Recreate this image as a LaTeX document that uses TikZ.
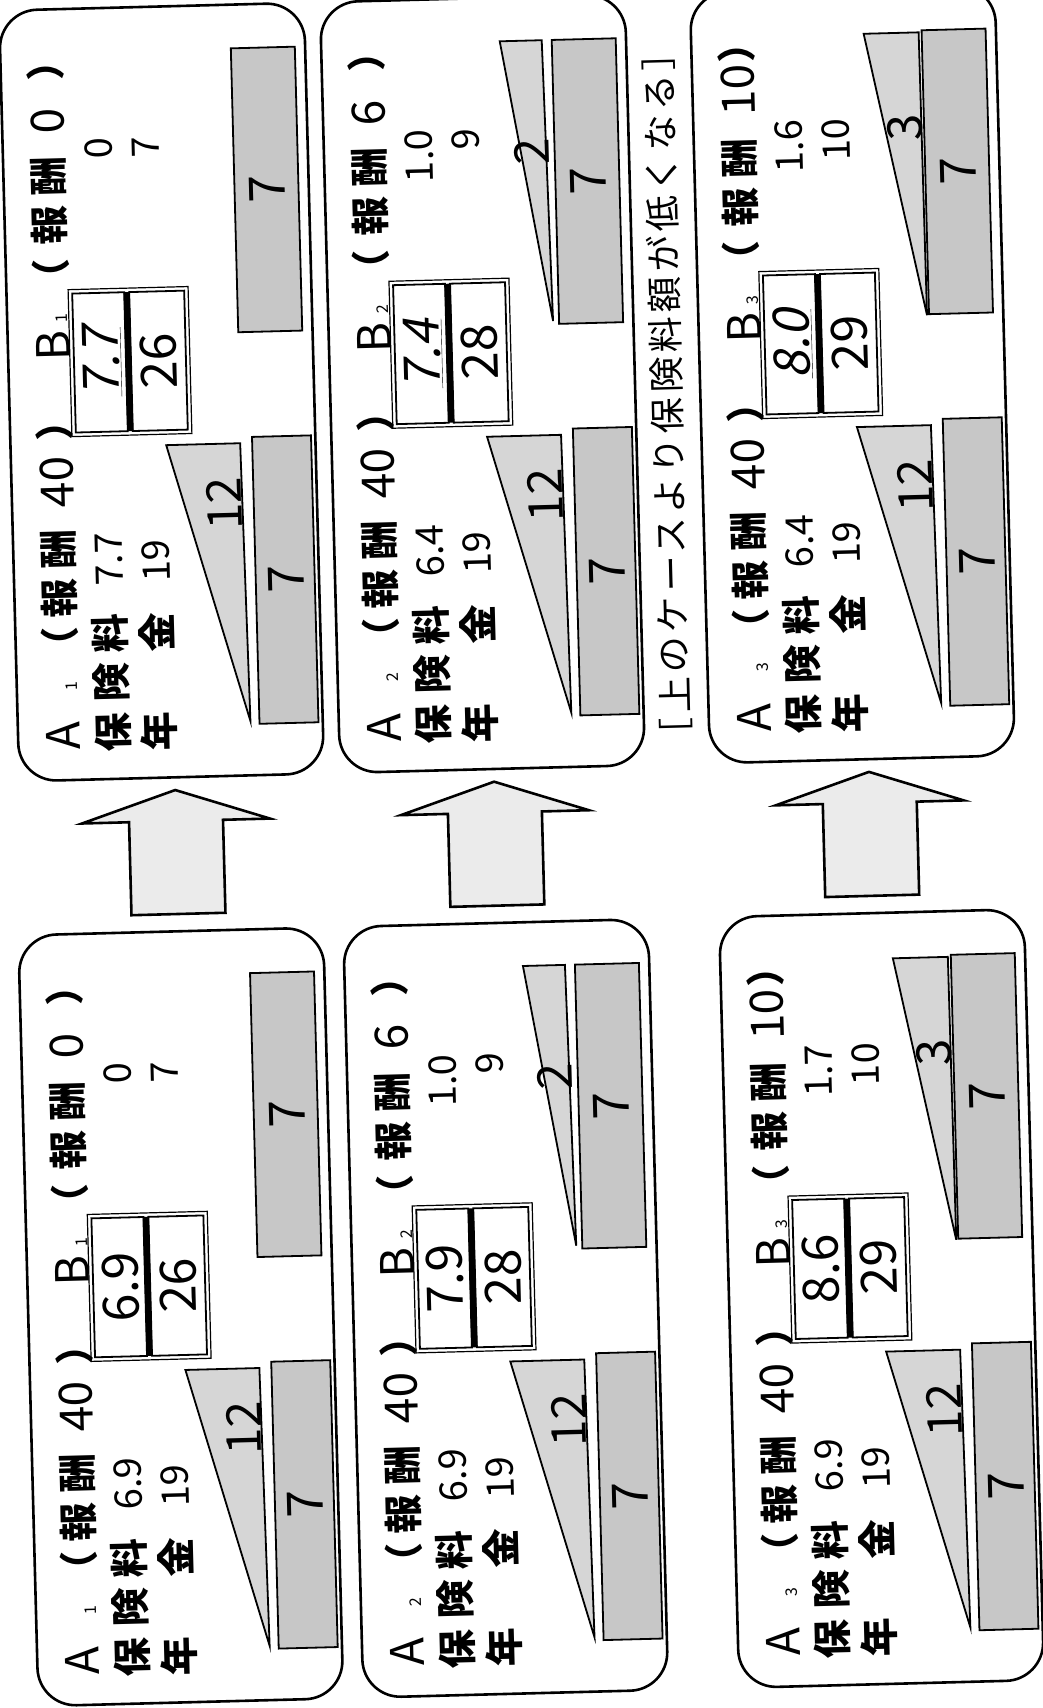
\documentclass[tikz,border=0pt]{standalone}
\usepackage{fontspec}
\setmainfont{Noto Sans CJK JP}
\newfontfamily\jpsl[FakeSlant=0.2]{Noto Sans CJK JP}
\newfontfamily\jpls[LetterSpace=12]{Noto Sans CJK JP}
\tikzset{
  tx/.style={rotate=90, inner sep=0pt, anchor=center},
  f16/.style={font=\fontsize{16}{16}\selectfont, text height=14pt, text depth=2pt},
  f38/.style={font=\fontsize{38}{38}\selectfont, text height=33.4pt, text depth=4.6pt},
  kj/.style={font=\bfseries\fontsize{39}{39}\selectfont, text height=34.3pt, text depth=4.7pt},
  f44/.style={font=\fontsize{46}{46}\selectfont, text height=40.5pt, text depth=5.5pt},
  f46/.style={font=\fontsize{46}{46}\selectfont, text height=40.5pt, text depth=5.5pt},
  f48/.style={font=\fontsize{48}{48}\selectfont, text height=42.2pt, text depth=5.8pt},
  f50/.style={font=\fontsize{50}{50}\selectfont, text height=44pt, text depth=6pt},
  panelbox/.style={draw, line width=2.6pt, rounded corners=38pt, minimum width=305pt, minimum height=771pt, inner sep=0pt, anchor=north west},
  bar/.style={draw, line width=1.8pt, fill=black!22},
  wedge/.style={draw, line width=1.8pt, fill=black!16},
  blockarrow/.style={draw, line width=2.6pt, fill=black!8, line join=miter},
}
% #1 name #2 left #3 top #4 index #5 B reward #6 A premium #7 B premium #8 B pension #9 Bbox top value; \bboxbot bottom value
\newcommand\panel[9]{%
\begin{scope}[shift={(#2,#3)}]
\node[panelbox] (#1) at (0,0) {};
% line 1
\node[tx,f44] (#1-A) at (46,728) {A};
\node[tx,f16] (#1-ia) at (56,678) {#4};
\node[tx,kj] (#1-l1) at (46,638) {（};
\node[tx,kj] (#1-h1) at (46,590) {報};
\node[tx,kj] (#1-s1) at (46,541) {酬};
\node[tx,f46] (#1-n1) at (46,474) {40};
\node[tx,kj] (#1-r1) at (46,413) {）};
\node[tx,f44] (#1-B) at (46,338) {B};
\node[tx,f16] (#1-ib) at (56,310) {#4};
\node[tx,kj] (#1-l2) at (46,270) {（};
\node[tx,kj] (#1-h2) at (46,217) {報};
\node[tx,kj] (#1-s2) at (46,168) {酬};
\node[tx,f46,anchor=west] (#1-n2) at (46,126) {#5};
\node[tx,kj] (#1-r2) at (46,53) {）};
% line 2
\node[tx,kj] (#1-ho) at (96,726) {保};
\node[tx,kj] (#1-ke) at (96,676) {険};
\node[tx,kj] (#1-ry) at (96,627) {料};
\node[tx,f38,anchor=west] (#1-pa) at (96,579) {#6};
\node[tx,f38,anchor=east] (#1-pb) at (96,131) {#7};
% line 3
\node[tx,kj] (#1-ne) at (143,726) {年};
\node[tx,kj] (#1-ki) at (143,627) {金};
\node[tx,f38,anchor=west] (#1-qa) at (143,577) {19};
\node[tx,f38,anchor=east] (#1-qb) at (143,131) {#8};
% B box
\draw[line width=1.2pt] (63,282) rectangle (183,429);
\draw[line width=1.8pt] (67,286) rectangle (119,425);
\draw[line width=1.8pt] (124,286) rectangle (179,425);
\draw[line width=6pt] (121.5,286) -- (121.5,425);
\node[tx,f50] (#1-bt) at (93,355.5) {#9};
\node[tx,f50] (#1-bu) at (151,355.5) {\bboxbot};
% A shapes
\draw[wedge] (157,440) -- (231,440) -- (234,718) -- cycle;
\node[tx,f48] (#1-t1) at (213,500) {12};
\draw[bar] (243,434) rectangle (302,721);
\node[tx,f50] (#1-v1) at (272.5,577.5) {7};
% B shapes
\ifcase#4\relax\or\or
\draw[wedge] (180,45) -- (222,45) -- (226,326) -- cycle;
\node[tx,f48] (#1-t2) at (208,156) {2};
\or
\draw[wedge] (174,47) -- (229,47) -- (230,330) -- cycle;
\node[tx,f48] (#1-t2) at (212,142) {3};
\fi
\draw[bar] (232,45) rectangle (296,329);
\node[tx,f50] (#1-v2) at (264,187) {7};
\end{scope}}
\newcommand\uit[1]{\underline{\jpsl #1}}
\begin{document}
\begin{tikzpicture}[x=1pt,y=-1pt]
\useasboundingbox (0,0) rectangle (1042,1708);
\fill[white] (0,0) rectangle (1042,1708);
\begin{scope}[rotate around={1.5:(521,854)}, transform shape]
\def\bboxbot{26}\panel{Ra}{20}{-4}{1}{0}{7.7}{0}{7}{\uit{7.7}}
\def\bboxbot{28}\panel{Rb}{341}{-4}{2}{6}{6.4}{1.0}{9}{\uit{7.4}}
\def\bboxbot{29}\panel{Rc}{711}{-4}{3}{10}{6.4}{1.6}{10}{\uit{8.0}}
\def\bboxbot{26}\panel{La}{15}{921}{1}{0}{6.9}{0}{7}{6.9}
\def\bboxbot{28}\panel{Lb}{340}{921}{2}{6}{6.9}{1.0}{9}{7.9}
\def\bboxbot{29}\panel{Lc}{716}{921}{3}{10}{6.9}{1.7}{10}{8.6}
% block arrows
\foreach \cx/\nm in {177/a,496/b,871/c}{
  \draw[blockarrow] (\cx-47,905) -- (\cx-47,812) -- (\cx-94,812) -- (\cx,781) -- (\cx+94,812) -- (\cx+47,812) -- (\cx+47,905) -- cycle;
}
\node[tx, font=\jpls\fontsize{36}{36}\selectfont] (note) at (679,398) {［上のケースより保険料額が低くなる］};
\end{scope}
\end{tikzpicture}
\end{document}
